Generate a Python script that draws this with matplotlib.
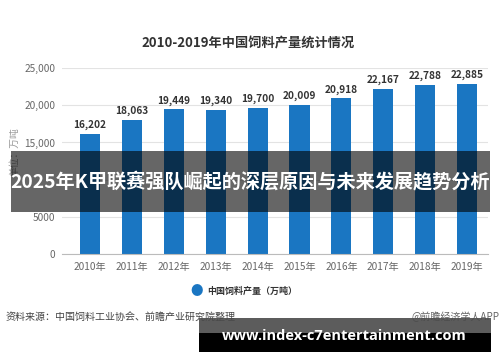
import matplotlib
matplotlib.use('Agg')
import matplotlib.pyplot as plt
from matplotlib.patches import Rectangle

plt.rcParams['font.family'] = ['Noto Sans CJK SC', 'DejaVu Sans']

# data
years = ['2010年', '2011年', '2012年', '2013年', '2014年',
         '2015年', '2016年', '2017年', '2018年', '2019年']
output = [16202, 18063, 19449, 19340, 19700, 20009, 20918, 22167, 22788, 22885]
yticks = [0, 5000, 10000, 15000, 20000, 25000]
# the 10,000 label sits under the banner in the reference
ytick_labels = ['0', '5000', '', '15,000', '20,000', '25,000']

bar_color = '#1a76c2'

fig = plt.figure(figsize=(5, 3.62), dpi=100)
ax = fig.add_axes([0.124, 0.298, 0.852, 0.514])

x = list(range(len(years)))
ax.bar(x, output, width=0.48, color=bar_color, zorder=2)
for xi, v in zip(x, output):
    ax.text(xi, v + 500, f'{v:,}', ha='center', va='bottom', fontsize=7.3,
            fontweight='bold', color='#333333', clip_on=False)

ax.set_xlim(-0.67, 9.5)
ax.set_ylim(0, 25000)
ax.set_yticks(yticks)
ax.set_yticklabels(ytick_labels)
ax.set_xticks(x)
ax.set_xticklabels(years)
ax.tick_params(axis='both', length=0, labelsize=7.3, colors='#666666')
ax.tick_params(axis='y', pad=5)
ax.tick_params(axis='x', pad=6)
ax.grid(axis='y', color='#e3e3e3', linewidth=0.8, zorder=0)
for s in ['top', 'right', 'left']:
    ax.spines[s].set_visible(False)
ax.spines['bottom'].set_color('#bbbbbb')
ax.set_ylabel('单位：万吨', fontsize=7, color='#999999', labelpad=4)
ax.yaxis.set_label_coords(-0.1, 0.55)

fig.text(0.497, 0.881, '2010-2019年中国饲料产量统计情况', ha='center', va='center',
         fontsize=9.5, fontweight='bold', color='#333333')

# legend
fig.text(0.394, 0.196, '●', ha='center', va='center', fontsize=9, color=bar_color)
fig.text(0.414, 0.196, '中国饲料产量（万吨）', ha='left', va='center',
         fontsize=6.5, fontweight='bold', color='#333333')

# footer
fig.text(0.012, 0.124, '资料来源：中国饲料工业协会、前瞻产业研究院整理', ha='left',
         va='center', fontsize=7.2, color='#444444')
fig.text(0.998, 0.124, '@前瞻经济学人APP', ha='right', va='center',
         fontsize=7.2, color='#666666')

# overlay banners
fig.add_artist(Rectangle((0.022, 0.414), 0.958, 0.1685, transform=fig.transFigure,
                         facecolor='black', alpha=0.6, edgecolor='none', zorder=5))
fig.text(0.5, 0.496, '2025年K甲联赛强队崛起的深层原因与未来发展趋势分析',
         ha='center', va='center', fontsize=13.8, fontweight='bold',
         color='white', zorder=6)

fig.add_artist(Rectangle((0.398, 0.08), 0.584, 0.042, transform=fig.transFigure,
                         facecolor='#4a4a4a', alpha=0.9, edgecolor='none', zorder=5))
fig.add_artist(Rectangle((0.398, 0.028), 0.584, 0.052, transform=fig.transFigure,
                         facecolor='black', edgecolor='none', zorder=5))
fig.text(0.688, 0.072, 'www.index-c7entertainment.com', ha='center', va='center',
         fontsize=10.5, fontweight='bold', color='white', zorder=6,
         family=['Open Sans', 'DejaVu Sans'])

fig.savefig('out.png', dpi=100)
